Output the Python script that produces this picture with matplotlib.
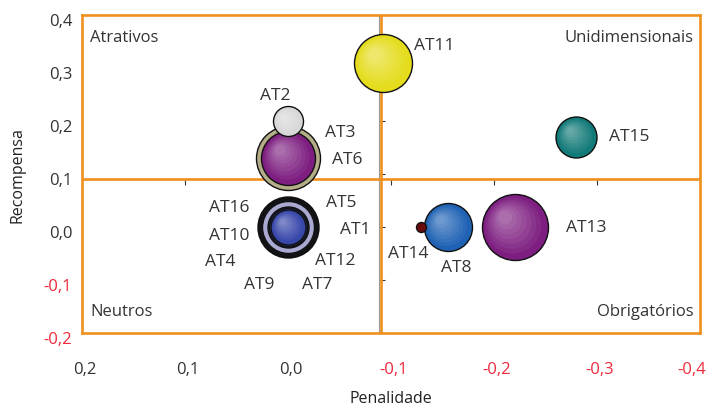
import numpy as np
import matplotlib
matplotlib.use('Agg')
import matplotlib.pyplot as plt
from matplotlib.colors import to_rgb
from matplotlib.transforms import offset_copy, ScaledTranslation

plt.rcParams['font.family'] = ['Open Sans', 'DejaVu Sans']

# ---- data ----
labels  = ['AT11', 'AT2', 'AT6', 'AT3', 'AT16', 'AT10', 'AT4', 'AT5', 'AT1',
           'AT12', 'AT9', 'AT7', 'AT14', 'AT8', 'AT13', 'AT15']
penal   = [-0.092, 0.0, 0.0, 0.0, 0.0, 0.0, 0.0, 0.0, 0.0,
           0.0, 0.0, 0.0, -0.129, -0.155, -0.220, -0.280]
recomp  = [0.310, 0.200, 0.130, 0.130, 0.0, 0.0, 0.0, 0.0, 0.0,
           0.0, 0.0, 0.0, 0.0, 0.0, 0.0, 0.170]
bubble  = [29, 15, 32, 27, 30.5, 29.5, 28, 26.5, 26,
           20.5, 19, 17.5, 5, 24, 33, 20.5]          # bubble radius (px)
colors  = ['#e4dc1c', '#d8d8d8', '#b3ad88', '#7d1e80', '#12122c', '#1a1a3a',
           '#22224a', '#a9a9d2', '#a9a9d2', '#1e2460', '#3848aa', '#3848aa',
           '#6a0c0c', '#1f62b4', '#7d1e80', '#127a78']
# label offset (px) from bubble centre, and alignment
lab_dx  = [31, -13, 44, 37, -38, -38, -52, 38, 52, 27, -29, 14, -33, -7, 51, 33]
lab_dy  = [18, 26, -1, 26, 20, -8, -34, 25, -2, -33, -57, -57, -26, -40, 0, 1]
lab_ha  = ['left', 'center', 'left', 'left', 'right', 'right', 'right', 'left',
           'left', 'left', 'center', 'left', 'left', 'left', 'left', 'left']

quadrants = ['Atrativos', 'Unidimensionais', 'Neutros', 'Obrigatórios']
x_cross, y_cross = -0.09, 0.09
xticks = [0.2, 0.1, 0.0, -0.1, -0.2, -0.3, -0.4]
yticks = [0.4, 0.3, 0.2, 0.1, 0.0, -0.1, -0.2]

ORANGE = '#f0901e'
TXT = '#333333'
RED = '#ee2a3c'

fig = plt.figure(figsize=(7.10, 4.06), dpi=100)
rect = [82 / 710, 1 - 334 / 406, 618 / 710, 318 / 406]

# background axes: carries the inner (crossing) axes with their tick marks
axb = fig.add_axes(rect)
axb.set_xlim(0.2, -0.4)
axb.set_ylim(-0.2, 0.4)
for s in ['top', 'right']:
    axb.spines[s].set_visible(False)
axb.spines['left'].set_position(('data', -0.088))
axb.spines['bottom'].set_position(('data', y_cross))
for s in ['left', 'bottom']:
    axb.spines[s].set_color('#999999')
    axb.spines[s].set_linewidth(0.8)
axb.set_xticks(xticks)
axb.set_yticks(yticks)
axb.tick_params(axis='y', direction='in', length=4, color='#333333', labelleft=False)
axb.tick_params(axis='x', direction='out', length=4, color='#333333', labelbottom=False)

# main axes
ax = fig.add_axes(rect)
ax.patch.set_alpha(0)
ax.set_xlim(0.2, -0.4)
ax.set_ylim(-0.2, 0.4)
for s in ax.spines.values():
    s.set_color(ORANGE)
    s.set_linewidth(1.9)
ax.axvline(x_cross, color=ORANGE, lw=1.9, zorder=1)
ax.axhline(y_cross, color=ORANGE, lw=1.9, zorder=1)

ax.set_xticks(xticks)
ax.set_yticks(yticks)
fmt = lambda v: f'{v:.1f}'.replace('.', ',').replace('-0,0', '0,0')
ax.set_xticklabels([fmt(v) for v in xticks])
ax.set_yticklabels([fmt(v) for v in yticks])
ax.tick_params(length=0, labelsize=12, labelcolor=TXT)
ax.tick_params(axis='x', pad=20)
ax.tick_params(axis='y', pad=7)
xlabs = ax.get_xticklabels()
for k, (lab, v) in enumerate(zip(xlabs, xticks)):
    if v < 0:
        lab.set_color(RED)
    dx = -8 if k == len(xlabs) - 1 else 3
    lab.set_transform(lab.get_transform() + ScaledTranslation(dx / 100, 0, fig.dpi_scale_trans))
for lab, v in zip(ax.get_yticklabels(), yticks):
    if v < 0:
        lab.set_color(RED)
    lab.set_transform(lab.get_transform() + ScaledTranslation(0, -4 / 100, fig.dpi_scale_trans))

ax.set_xlabel('Penalidade', fontsize=11.5, color='#222222', fontweight='medium')
ax.set_ylabel('Recompensa', fontsize=11.5, color='#222222', fontweight='medium')
ax.xaxis.set_label_coords(0.5, -0.179)
ax.yaxis.set_label_coords(-0.092, 0.5)

PX = 72 / fig.dpi   # points per pixel


def mix(c, w, f):
    c = np.array(to_rgb(c))
    return tuple(c + (np.array(to_rgb(w)) - c) * f)


def shaded_bubble(x, y, r, color, z):
    # base disc with dark outline, then lighter discs drifting to the upper left
    ax.scatter([x], [y], s=(2 * r * PX) ** 2, color=color, edgecolor='#111111',
               linewidth=1.0, zorder=z)
    if r < 8:
        return
    n = 8
    for k in range(1, n):
        f = k / n
        rr = r * (1 - 0.85 * f) - 1.5
        off = r * 0.33 * f * PX
        tr = offset_copy(ax.transData, fig=fig, x=-off, y=off, units='points')
        ax.scatter([x], [y], s=(2 * rr * PX) ** 2, color=mix(color, 'white', 0.05 * k),
                   edgecolor='none', zorder=z + 0.01 * k, transform=tr)


flat_set = ('AT16', 'AT10', 'AT4', 'AT5', 'AT1', 'AT6', 'AT12')
order = np.argsort(bubble)[::-1]
for rank, i in enumerate(order):
    z = 3 + rank * 0.1
    if labels[i] in flat_set:
        ax.scatter([penal[i]], [recomp[i]], s=(2 * bubble[i] * PX) ** 2,
                   color=colors[i], edgecolor='#111111', linewidth=1.0, zorder=z)
    else:
        shaded_bubble(penal[i], recomp[i], bubble[i], colors[i], z)

for i, lab in enumerate(labels):
    tr = offset_copy(ax.transData, fig=fig, x=lab_dx[i] * PX,
                     y=lab_dy[i] * PX, units='points')
    ax.text(penal[i], recomp[i], lab, transform=tr, ha=lab_ha[i], va='center',
            fontsize=12.5, color=TXT, zorder=10)

qpos = [(0.013, 0.931, 'left'), (0.99, 0.931, 'right'),
        (0.013, 0.069, 'left'), (0.99, 0.069, 'right')]
for name, (qx, qy, ha) in zip(quadrants, qpos):
    ax.text(qx, qy, name, transform=ax.transAxes, ha=ha, va='center',
            fontsize=12, color=TXT)

fig.savefig('out.png', dpi=100, facecolor='white')
